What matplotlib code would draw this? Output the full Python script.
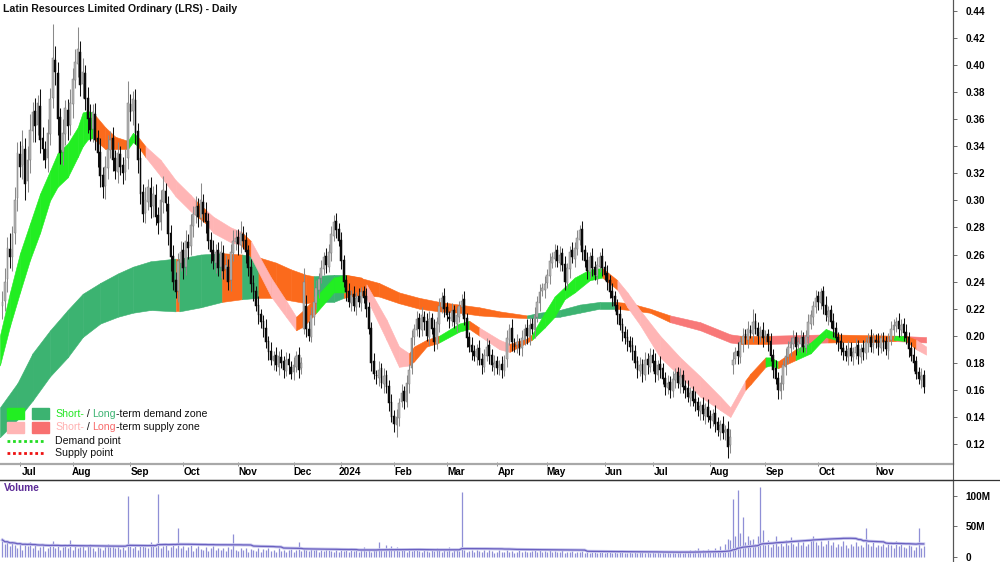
import numpy as np
import pandas as pd
import matplotlib
matplotlib.use("Agg")
import matplotlib.pyplot as plt
from matplotlib.patches import Rectangle
from matplotlib.lines import Line2D

plt.rcParams['font.family'] = ['Liberation Sans', 'DejaVu Sans']

TITLE = "Latin Resources Limited Ordinary (LRS) - Daily"
START = "2023-06-22"
HOLIDAYS = ["2023-12-25", "2023-12-26", "2024-01-01", "2024-01-26",
            "2024-03-29", "2024-04-01", "2024-04-25", "2024-06-10"]

# prices in thousandths of a dollar
OPEN = [222,226,242,264,258,276,302,334,326,338,
        314,330,351,366,356,370,346,338,331,349,
        376,404,394,362,336,349,367,356,371,389,
        401,410,386,394,376,361,353,364,346,336,
        319,311,324,337,346,331,321,334,326,321,
        331,371,366,374,351,331,306,291,299,309,
        296,304,289,284,299,307,297,276,259,241,
        233,254,263,251,269,266,281,289,296,287,
        299,291,285,271,263,254,263,251,261,249,
        251,241,261,269,273,267,275,271,263,251,
        239,233,223,216,211,206,196,189,181,186,
        177,184,181,174,183,177,173,177,186,176,
        205,222,205,199,214,224,234,243,249,259,
        251,261,274,285,279,271,256,241,233,224,
        231,221,229,224,233,229,221,206,181,171,
        169,176,164,171,163,151,141,134,139,151,
        159,151,164,176,199,204,213,204,214,211,
        199,213,206,194,209,221,229,221,214,211,
        219,209,214,221,227,213,199,193,189,184,
        191,183,177,185,193,186,177,181,175,179,
        174,183,197,206,194,193,194,191,197,206,
        199,209,204,214,224,233,234,239,244,254,
        257,263,254,261,253,239,249,263,257,264,
        271,279,263,256,247,259,251,244,251,259,
        251,246,241,233,229,223,216,209,203,199,
        196,193,189,181,174,179,171,183,177,186,
        181,171,179,176,169,161,166,159,167,173,
        164,171,163,161,154,159,153,151,144,149,
        141,147,141,137,143,136,129,135,129,131,
        119,178,183,189,184,194,201,197,204,201,
        211,206,199,204,199,201,196,186,176,169,
        159,164,177,184,191,194,199,193,194,199,
        191,199,209,214,221,229,224,233,223,214,
        219,211,206,199,196,191,189,184,191,184,
        187,193,184,191,187,194,199,193,197,196,
        191,197,196,189,197,204,207,211,204,209,
        203,199,191,186,181,173,167,171]
CLOSE = [225,240,265,258,275,300,335,325,340,312,
         330,352,365,355,372,345,338,330,350,375,
         405,395,360,335,350,368,355,372,390,402,
         412,385,395,375,360,352,365,345,335,318,
         310,325,338,345,330,322,335,325,320,330,
         372,365,375,350,330,305,290,300,310,295,
         305,288,283,300,308,298,275,258,240,232,
         255,262,250,270,265,282,290,295,288,300,
         290,284,270,262,255,262,250,262,248,252,
         240,262,270,272,268,276,270,262,250,238,
         232,222,215,210,205,195,188,182,185,178,
         185,180,175,182,178,172,178,185,175,180,
         240,205,200,215,225,235,242,250,258,252,
         262,275,284,278,270,255,240,232,225,230,
         222,228,225,232,228,220,205,180,172,170,
         175,165,170,162,150,140,135,140,150,158,
         152,165,175,198,205,212,205,215,210,200,
         212,205,195,210,222,228,220,215,212,218,
         210,215,222,226,212,198,192,188,185,190,
         182,178,186,192,185,178,180,176,178,175,
         182,198,205,195,192,195,190,198,205,200,
         208,205,215,225,232,235,238,245,255,258,
         262,255,260,252,240,250,262,258,265,272,
         278,262,255,248,258,250,245,252,258,250,
         245,240,232,228,222,215,208,202,198,195,
         192,188,180,175,178,172,182,178,185,180,
         172,178,175,168,162,165,160,168,172,165,
         170,162,160,155,158,152,150,145,148,142,
         146,140,138,142,135,130,134,128,130,118,
         125,182,188,185,195,200,198,205,202,210,
         205,200,203,198,200,195,185,175,168,160,
         165,178,185,192,195,198,192,195,198,192,
         200,210,215,222,228,225,232,222,215,218,
         210,205,198,195,190,188,185,190,185,188,
         192,185,190,188,195,198,192,198,195,192,
         198,195,190,198,205,208,210,205,208,202,
         198,190,185,180,172,168,170,162]
UPPER_WICK = [8,10,8,12,6,10,8,10,12,8,
              10,12,8,10,6,12,8,6,10,8,
              25,10,8,6,10,6,8,10,8,10,
              16,8,10,6,8,10,6,8,6,10,
              6,8,10,6,8,6,8,6,6,8,
              16,8,6,8,6,8,6,10,6,8,
              6,8,6,8,10,6,6,6,8,6,
              6,8,6,8,6,8,6,8,6,13,
              6,8,6,6,8,6,6,8,6,8,
              6,6,8,6,6,9,6,6,4,6,
              6,4,6,4,4,6,4,6,4,6,
              4,6,4,6,4,4,6,4,6,4,
              10,8,6,6,4,6,4,6,4,6,
              6,6,5,6,4,6,4,4,6,4,
              6,4,6,4,4,6,4,4,6,4,
              6,4,6,4,4,6,4,6,4,6,
              4,6,4,6,4,6,4,6,4,6,
              6,4,6,4,6,4,6,4,4,6,
              4,6,4,5,6,4,4,6,4,4,
              6,4,4,6,4,4,6,4,4,6,
              4,6,4,6,4,6,4,6,4,6,
              6,4,6,4,6,4,6,4,6,4,
              6,4,6,4,6,4,4,6,4,6,
              4,6,4,6,4,6,4,6,4,6,
              4,6,4,6,4,4,6,4,4,6,
              4,6,4,4,6,4,6,4,6,4,
              6,4,6,4,4,6,4,6,4,4,
              6,4,4,6,4,4,6,4,4,6,
              4,6,4,4,6,4,4,6,4,6,
              6,6,4,6,4,6,4,6,4,10,
              6,4,4,6,4,4,6,4,6,4,
              6,4,6,4,4,6,4,4,6,4,
              4,6,4,4,6,4,3,4,6,4,
              4,6,4,4,6,4,4,6,4,4,
              6,4,4,6,4,4,6,4,4,6,
              4,6,4,4,6,4,4,6,4,4,
              6,4,4,6,4,4,6,4]
LOWER_WICK = [10,8,10,8,10,8,10,8,10,12,
              8,10,8,12,8,10,8,6,10,8,
              8,10,12,8,10,8,10,8,10,6,
              10,8,10,8,10,8,10,8,10,8,
              8,10,8,6,8,6,8,6,8,6,
              8,6,10,8,10,8,6,8,6,8,
              8,6,8,6,8,6,8,10,6,4,
              8,6,8,6,8,6,8,6,8,6,
              6,8,6,8,6,8,6,8,6,8,
              6,8,6,6,8,6,6,8,6,6,
              6,4,6,4,6,4,6,4,6,4,
              6,4,6,4,6,4,6,4,6,4,
              4,6,4,4,6,4,6,4,4,6,
              4,6,4,6,4,6,4,6,4,6,
              4,6,4,6,4,6,4,6,4,6,
              6,4,6,4,6,4,6,9,6,4,
              6,4,6,4,6,4,6,4,6,4,
              6,4,6,4,6,4,6,4,6,4,
              4,6,4,6,4,6,4,6,4,6,
              4,6,4,4,6,4,6,4,4,6,
              4,6,4,6,4,6,4,6,4,6,
              6,4,6,4,6,4,6,4,6,4,
              6,4,6,4,6,4,6,4,6,4,
              4,6,4,6,4,6,4,6,4,6,
              4,6,4,6,4,6,4,6,4,6,
              4,6,4,6,4,6,4,6,4,6,
              6,4,6,4,6,4,6,4,6,4,
              6,4,6,4,6,4,6,4,6,4,
              6,4,6,4,6,4,6,4,6,8,
              6,6,4,6,4,6,4,6,4,6,
              4,6,4,6,4,6,4,6,4,7,
              6,4,6,4,6,4,6,4,6,4,
              4,6,4,6,4,6,4,6,4,6,
              4,6,4,6,4,6,4,6,4,6,
              4,6,4,6,4,6,4,6,4,6,
              4,6,4,6,4,6,4,6,4,6,
              4,6,4,6,4,4,6,4]
# volume in millions of shares
VOLUME_M = [28,22,25,18,24,20,15,23,12,22,
            18,24,14,20,12,16,22,10,15,18,
            26,14,20,12,17,22,15,28,11,19,
            14,16,20,12,18,22,15,10,17,14,
            12,18,22,16,19,15,20,13,17,12,
            100,18,15,22,12,18,20,16,14,25,
            20,16,104,14,18,22,12,16,20,15,
            48,14,18,12,16,20,10,15,18,13,
            12,16,10,14,18,12,15,11,14,10,
            16,13,38,12,10,14,11,15,9,13,
            12,10,14,9,13,11,15,10,12,8,
            14,10,12,9,11,13,8,12,24,10,
            14,12,10,15,11,13,9,12,10,14,
            12,10,9,13,8,11,10,12,9,14,
            10,12,8,11,16,10,12,9,13,11,
            24,12,10,20,14,18,12,16,10,11,
            12,9,14,10,11,15,10,8,12,10,
            9,12,10,14,11,8,12,10,16,9,
            11,13,10,106,12,9,10,12,8,11,
            10,8,12,9,11,10,7,9,12,8,
            9,11,8,10,7,9,12,8,10,9,
            8,10,12,9,11,8,10,9,12,8,
            10,8,9,11,7,9,8,10,7,9,
            8,10,7,9,6,8,10,7,9,8,
            7,9,8,6,10,7,9,8,6,7,
            8,6,9,7,8,10,6,8,7,9,
            6,8,7,9,6,8,7,10,6,8,
            9,7,10,8,12,9,11,14,10,12,
            9,13,10,8,15,11,18,12,22,30,
            28,95,35,110,40,65,25,35,28,30,
            22,35,115,45,20,28,16,22,35,18,
            24,18,28,20,32,22,18,26,20,24,
            18,22,28,35,24,20,26,18,22,28,
            20,24,16,22,18,26,20,15,22,18,
            24,18,20,16,48,22,18,25,16,20,
            18,22,16,24,20,15,26,18,22,16,
            14,20,18,12,16,48,15,18]

# ribbon knots: bar index, upper/lower edge (thousandths), zone code of the following stretch
ST_X = [-1,3,7,11,15,19,22,26,30,32,34,36,41,45,50,52,54,57,63,69,75,77,81,84,91,95,99,107,113,117,
        120,125,132,137,143,145,153,158,162,164,169,174,182,186,190,198,202,209,211,216,220,224,228,234,239,
        245,249,254,262,270,278,286,290,296,298,304,306,309,316,322,328,332,338,348,355,360,364,368]
ST_HI = [200,232,261,283,305,322,335,342,354,365,366,365,354,347,344,350,347,340,330,315,304,300,293,288,280,277,270,243,226,214,
         219,229,243,245,243,238,212,192,187,192,197,200,209,211,206,197,194,198,201,217,229,236,243,249,250,
         241,232,219,200,184,170,155,147,167,172,184,184,181,190,195,205,202,197,197,200,200,197,192]
ST_LO = [178,207,232,256,276,300,310,317,332,340,345,346,338,338,338,343,340,332,318,303,292,289,283,276,269,267,258,229,214,204,
         207,217,232,232,230,228,197,177,178,181,192,195,203,205,200,190,188,195,197,206,214,227,232,241,243,
         234,221,208,184,170,155,145,140,160,164,177,178,176,182,187,199,197,195,195,197,196,190,186]
ST_ZONE = "GGGGGGGGGGGOOOGGOPPPPOPPPOPPPOOGGOOPPPOOOGGOPPOOGGGGGGOPPPPPPPPOOGGOGGGOOOGOPP"

LT_X = [-1,6,12,19,26,32,39,46,52,59,69,70.5,79,87.5,95.5,102,109,115,121,124,132,136,142,150,158,166,174,182,190,198,
        209,214,222,230,238,244,250,258,266,278,290,294,306,329,356,368]
LT_HI = [147,165,187,204,219,231,239,246,251,255,257,257,260,261,260,258,254,249,245,244,245,245,243,239,232,228,225,223,221,218,
         215,217,219,223,225,225,224,220,215,210,201,200,200,201,200,199]
LT_LO = [125,138,152,170,184,199,209,214,217,219,218,218,221,225,227,228,228,226,224,225,225,228,230,229,224,220,218,217,215,214,
         213,213,214,217,220,220,219,217,210,204,195,194,194,195,196,195]
LT_ZONE = "DDDDDDDDDDODDODOOOODDOOOOOOOOODDDDDOOOSSSOSOS"

ZONE_COLORS = {'G': '#22ee22', 'D': '#3cb371', 'P': '#ffb5b5', 'O': '#fb6a1c', 'S': '#f87878'}

W, H = 1000, 562
n = min(len(OPEN), len(CLOSE), len(UPPER_WICK), len(LOWER_WICK), len(VOLUME_M))
o = np.array(OPEN[:n]) / 1000.0
c = np.array(CLOSE[:n]) / 1000.0
hi = np.maximum(o, c) + np.array(UPPER_WICK[:n]) / 1000.0
lo = np.minimum(o, c) - np.array(LOWER_WICK[:n]) / 1000.0
vol = np.array(VOLUME_M[:n], dtype=float)
x = np.arange(n)

cbd = pd.offsets.CustomBusinessDay(holidays=pd.to_datetime(HOLIDAYS))
dates = pd.date_range(START, periods=n, freq=cbd)
months = dates.to_period('M')
mstarts = [i for i in range(1, n) if months[i] != months[i - 1]]
mlabels = [str(dates[i].year) if dates[i].month == 1 else dates[i].strftime('%b') for i in mstarts]

fig = plt.figure(figsize=(W / 100, H / 100), dpi=100)
fig.patch.set_facecolor('white')

def fx(px):
    return px / W

def fy(py):
    return 1 - py / H

ax = fig.add_axes([0, fy(464), fx(953), 464 / H])
axv = fig.add_axes([0, 0, fx(953), (H - 480) / H])

XMIN, XMAX = -0.96, 378.7
ax.set_xlim(XMIN, XMAX)
ax.set_ylim(0.1052, 0.4481)
axv.set_xlim(XMIN, XMAX)
axv.set_ylim(-8.2, 126.2)

# ribbons
def ribbon(xs, his, los, zones, z):
    for k in range(len(xs) - 1):
        col = ZONE_COLORS[zones[k]]
        ax.fill_between([xs[k], xs[k + 1]], [los[k] / 1000, los[k + 1] / 1000],
                        [his[k] / 1000, his[k + 1] / 1000], color=col, lw=0.4, ec=col, zorder=z)

ribbon(LT_X, LT_HI, LT_LO, LT_ZONE, 1)
ribbon(ST_X, ST_HI, ST_LO, ST_ZONE, 2)

# candles
up = c >= o
body_lo = np.minimum(o, c)
body_h = np.maximum(np.abs(c - o), 0.0012)
ax.vlines(x[up], lo[up], hi[up], color='#8a8a8a', lw=0.75, zorder=3)
ax.vlines(x[~up], lo[~up], hi[~up], color='#111111', lw=0.75, zorder=3)
ax.bar(x[up], body_h[up], bottom=body_lo[up], width=0.72, color='#b4b4b4',
       edgecolor='#7a7a7a', lw=0.35, zorder=4)
ax.bar(x[~up], body_h[~up], bottom=body_lo[~up], width=0.72, color='#0a0a0a',
       edgecolor='#0a0a0a', lw=0.35, zorder=4)

# price axis
for s in ['top', 'left']:
    ax.spines[s].set_visible(False)
ax.spines['right'].set_color('#555555')
ax.spines['right'].set_linewidth(0.8)
ax.spines['bottom'].set_color('#a8a8a8')
ax.spines['bottom'].set_linewidth(1.6)
ax.yaxis.tick_right()
yt = np.arange(0.12, 0.4401, 0.02)
ax.set_yticks(yt)
ax.set_yticklabels([f"{v:.2f}" for v in yt], fontsize=7.2, fontweight='bold')
ax.tick_params(axis='y', direction='out', length=3, width=0.6, color='#555555', pad=6)
ax.set_xticks([m + 3.6 for m in mstarts])
ax.set_xticklabels(mlabels, fontsize=7.2, fontweight='bold')
ax.set_xticks(mstarts, minor=True)
ax.tick_params(axis='x', which='major', length=0, pad=2)
ax.tick_params(axis='x', which='minor', length=3, width=0.6, color='#777777', direction='inout')

# volume
axv.vlines(x, 0, vol, color='#8f8fd6', lw=0.9, zorder=2)
vavg = pd.Series(vol).rolling(50, min_periods=1).mean().values
axv.plot(x, vavg, color='#c4c4ec', lw=2.2, zorder=3)
axv.plot(x, vavg, color='#6a5fc0', lw=0.9, zorder=4)
for s in ['left', 'bottom']:
    axv.spines[s].set_visible(False)
axv.spines['right'].set_color('#555555')
axv.spines['right'].set_linewidth(0.8)
axv.spines['top'].set_color('#333333')
axv.spines['top'].set_linewidth(0.9)
axv.yaxis.tick_right()
axv.set_yticks([0, 50, 100])
axv.set_yticklabels(['0', '50M', '100M'], fontsize=7.2, fontweight='bold')
axv.tick_params(axis='y', direction='out', length=3, width=0.6, color='#555555', pad=6)
axv.set_xticks([])
axv.text(0.004, 0.9, "Volume", transform=axv.transAxes, color='#5b2a96',
         fontsize=7.3, fontweight='bold', va='center', ha='left')

# frame lines across the full figure
fig.add_artist(Line2D([fx(953), fx(953)], [0, 1], transform=fig.transFigure, color='#555555', lw=0.8))
fig.add_artist(Line2D([0, 1], [fy(480), fy(480)], transform=fig.transFigure, color='#333333', lw=0.9))

# title
fig.text(fx(3), fy(9), TITLE, fontsize=7.6, fontweight='bold', va='center', ha='left', color='#111111')

# legend
def rich(xp, yp, parts, size=7.6):
    r = fig.canvas.get_renderer()
    cur = xp
    for s, col in parts:
        t = fig.text(fx(cur), fy(yp), s, color=col, fontsize=size, va='center', ha='left', zorder=6)
        cur += t.get_window_extent(renderer=r).width

for (x0, y0, w, h, col) in [(7, 408, 17, 11, ZONE_COLORS['G']), (32, 408, 17, 11, ZONE_COLORS['D']),
                            (7, 422, 17, 11, ZONE_COLORS['P']), (32, 422, 17, 11, '#f87070')]:
    fig.add_artist(Rectangle((fx(x0), fy(y0 + h)), w / W, h / H, transform=fig.transFigure,
                             color=col, zorder=5))
rich(55, 414, [("Short-", '#22e622'), (" / ", '#111111'), ("Long", '#3cb371'),
               ("-term demand zone", '#111111')])
rich(55, 427, [("Short-", '#ffb0b0'), (" / ", '#111111'), ("Long", '#f86a6a'),
               ("-term supply zone", '#111111')])
fig.add_artist(Line2D([fx(7), fx(45)], [fy(441), fy(441)], transform=fig.transFigure,
                      color='#22dd22', lw=2, ls=(0, (1, 1)), zorder=5))
fig.add_artist(Line2D([fx(7), fx(45)], [fy(453), fy(453)], transform=fig.transFigure,
                      color='#ee1111', lw=2, ls=(0, (1, 1)), zorder=5))
rich(55, 441, [("Demand point", '#111111')])
rich(55, 453, [("Supply point", '#111111')])

fig.savefig("out.png", dpi=100, facecolor='white')
